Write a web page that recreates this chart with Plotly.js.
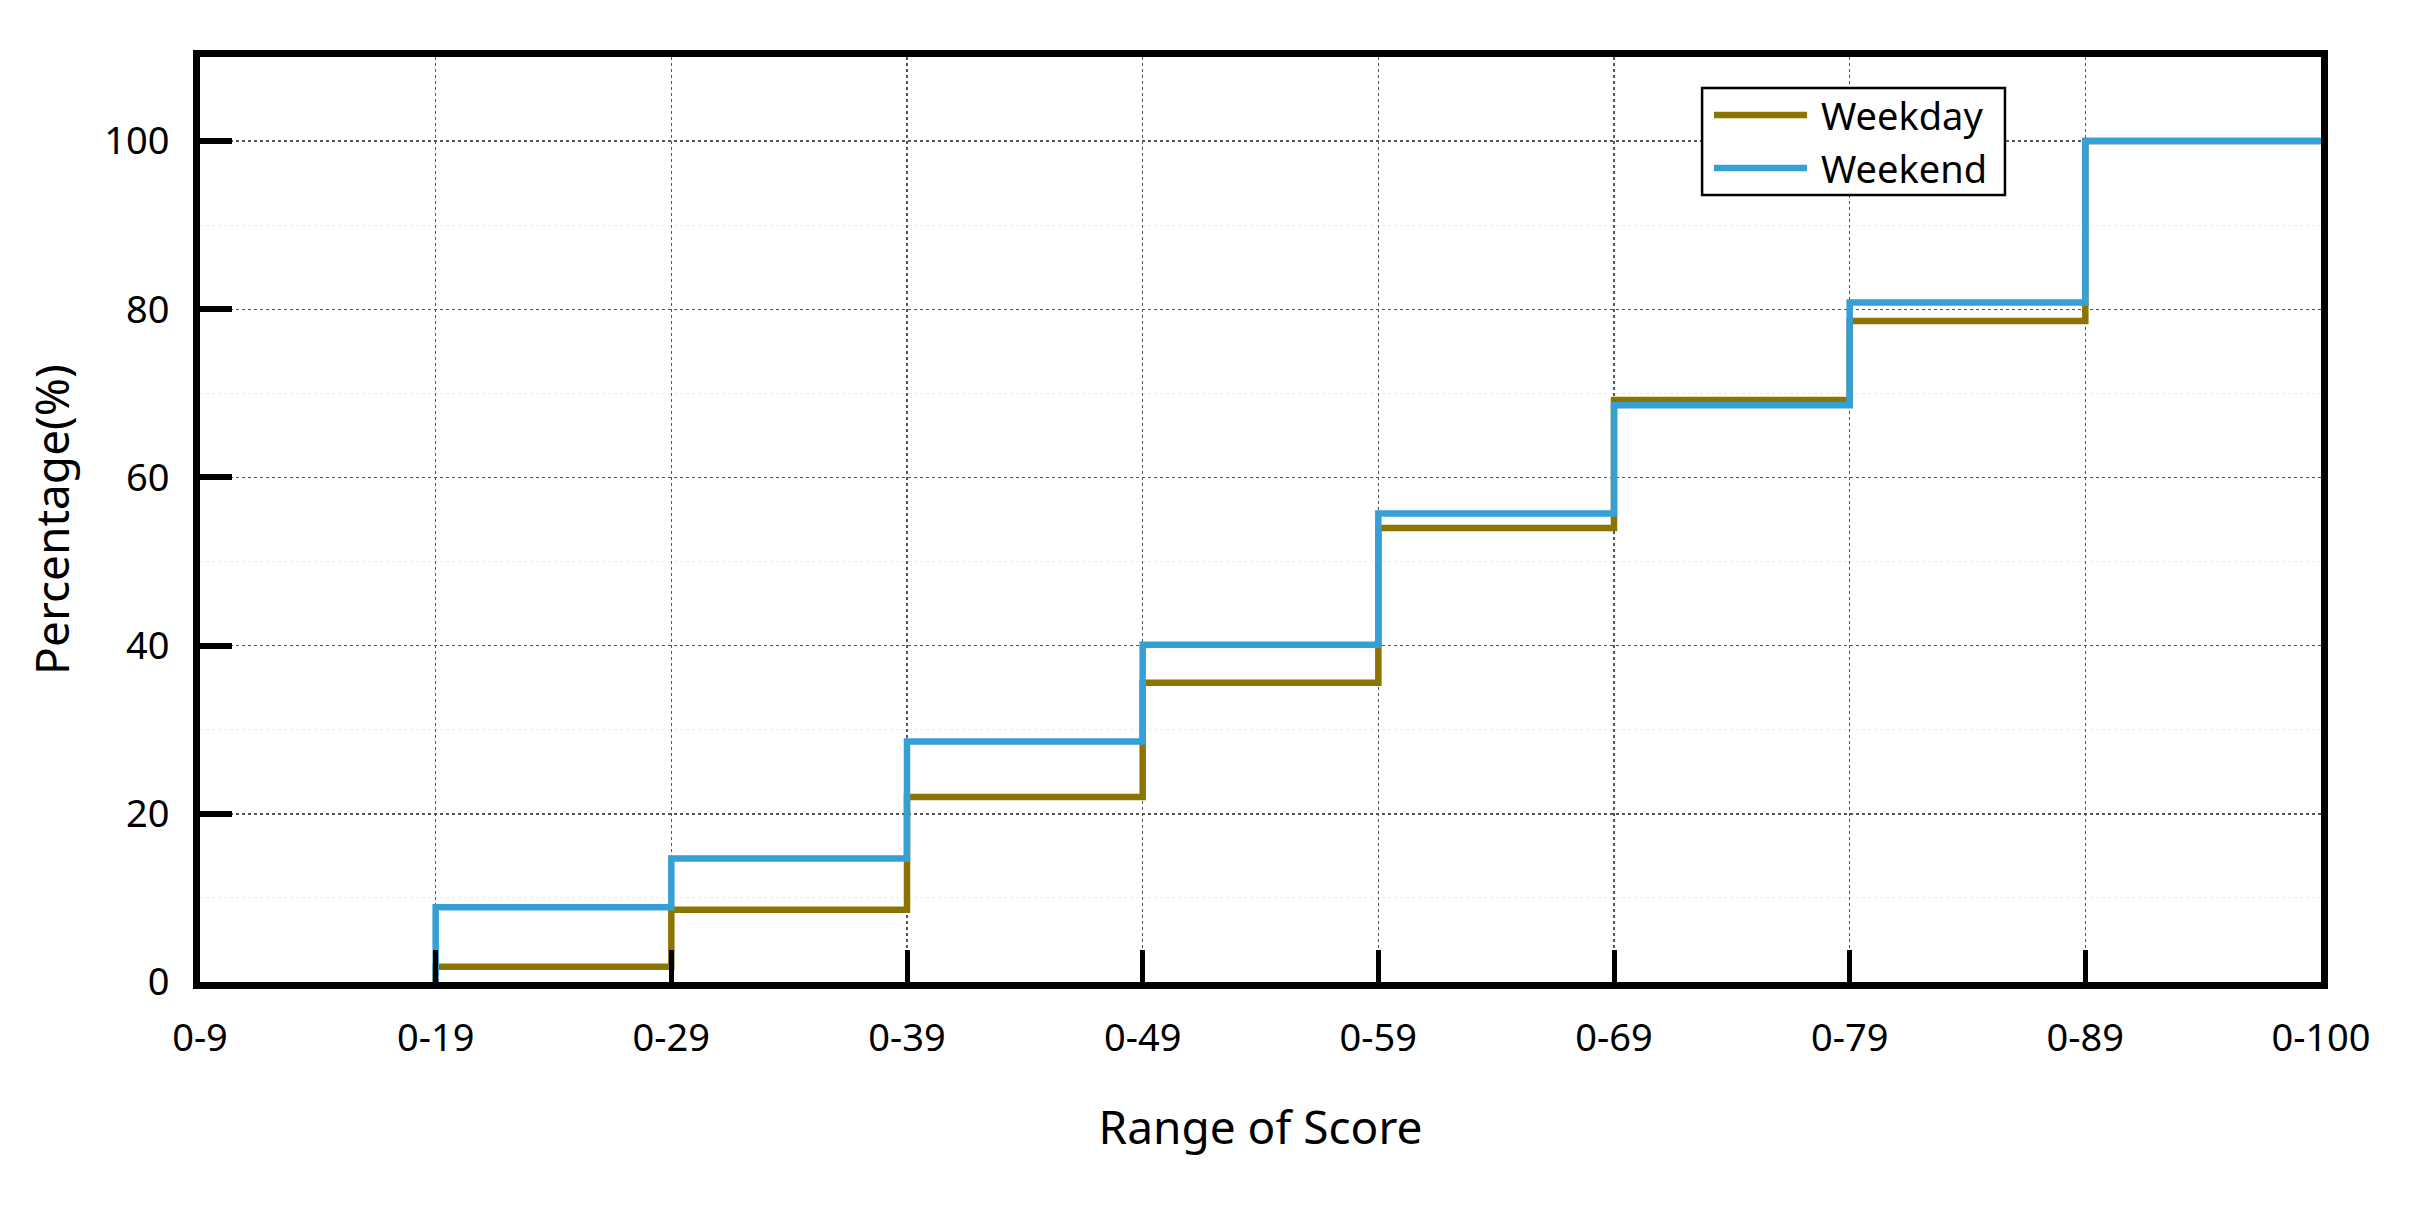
<!DOCTYPE html>
<html>
<head>
<meta charset="utf-8">
<script src="https://cdn.plot.ly/plotly-3.0.1.min.js"></script>
<style>html,body{margin:0;padding:0;background:#fff;}#chart{width:2411px;height:1208px;}</style>
</head>
<body>
<div id="chart"></div>
<script>
const categories = ['0-9','0-19','0-29','0-39','0-49','0-59','0-69','0-79','0-89','0-100'];
const weekday = [null, 1.8, 8.6, 22.0, 35.6, 54.0, 69.2, 78.6, 100, 100];
const weekend = [null, 8.9, 14.7, 28.6, 40.1, 55.7, 68.6, 80.8, 100, 100];
const yTicks = [0, 20, 40, 60, 80, 100];
const seriesNames = ['Weekday', 'Weekend'];
const seriesColors = ['#8c7400', '#369fd6'];

function stepTrace(name, vals, color) {
  const xs = [], ys = [];
  let started = false;
  vals.forEach((v, i) => {
    if (v === null) return;
    if (!started) { xs.push(categories[i]); ys.push(0); started = true; }
    xs.push(categories[i]); ys.push(v);
  });
  return {
    type: 'scatter', mode: 'lines', name: name, x: xs, y: ys,
    line: {shape: 'hv', color: color, width: 6.5},
    showlegend: false
  };
}

const data = [
  stepTrace(seriesNames[0], weekday, seriesColors[0]),
  stepTrace(seriesNames[1], weekend, seriesColors[1])
];

const font = "'Noto Sans', 'Open Sans', sans-serif";

// custom legend (box, line samples, labels) in paper coordinates
const legBox = {x0: 0.7082, x1: 0.8510, y0: 0.8508, y1: 0.9665};
const legRows = [0.9373, 0.8800];
const shapes = [{
  type: 'rect', xref: 'paper', yref: 'paper',
  x0: legBox.x0, x1: legBox.x1, y0: legBox.y0, y1: legBox.y1,
  line: {color: '#000', width: 2.5}, fillcolor: '#fff', layer: 'above'
}];
const annotations = [];
seriesNames.forEach((n, i) => {
  shapes.push({
    type: 'line', xref: 'paper', yref: 'paper',
    x0: 0.7138, x1: 0.7577, y0: legRows[i], y1: legRows[i],
    line: {color: seriesColors[i], width: 6.5}, layer: 'above'
  });
  annotations.push({
    xref: 'paper', yref: 'paper', x: 0.7635, y: legRows[i],
    xanchor: 'left', yanchor: 'middle', showarrow: false,
    text: n, font: {size: 38, family: font, color: '#000'}
  });
});

const layout = {
  width: 2411, height: 1208,
  margin: {l: 200, r: 90, t: 57, b: 226},
  paper_bgcolor: '#fff', plot_bgcolor: '#fff',
  font: {family: font, color: '#000', size: 38},
  showlegend: false,
  shapes: shapes,
  annotations: annotations,
  xaxis: {
    type: 'category', categoryorder: 'array', categoryarray: categories,
    tickvals: categories, ticktext: categories,
    range: [0, 9],
    showline: true, linecolor: '#000', linewidth: 7, mirror: true,
    ticks: 'inside', ticklen: 32, tickwidth: 5, tickcolor: '#000',
    ticklabelstandoff: 16,
    showgrid: true, gridcolor: '#555', griddash: 'dot', gridwidth: 1.5,
    zeroline: false,
    tickfont: {size: 38},
    title: {text: 'Range of Score', font: {size: 46}, standoff: 54}
  },
  yaxis: {
    range: [0, 110], tickvals: yTicks, ticktext: yTicks.map(String),
    showline: true, linecolor: '#000', linewidth: 7, mirror: true,
    ticks: 'inside', ticklen: 32, tickwidth: 6, tickcolor: '#000',
    ticklabelstandoff: 16,
    showgrid: true, gridcolor: '#555', griddash: 'dot', gridwidth: 1.5,
    minor: {tickvals: [10, 30, 50, 70, 90], showgrid: true, gridcolor: '#ececec', gridwidth: 1, ticks: ''},
    zeroline: false,
    tickfont: {size: 38},
    title: {text: 'Percentage(%)', font: {size: 46}, standoff: 23}
  }
};

Plotly.newPlot('chart', data, layout, {displayModeBar: false, staticPlot: true});
</script>
</body>
</html>
